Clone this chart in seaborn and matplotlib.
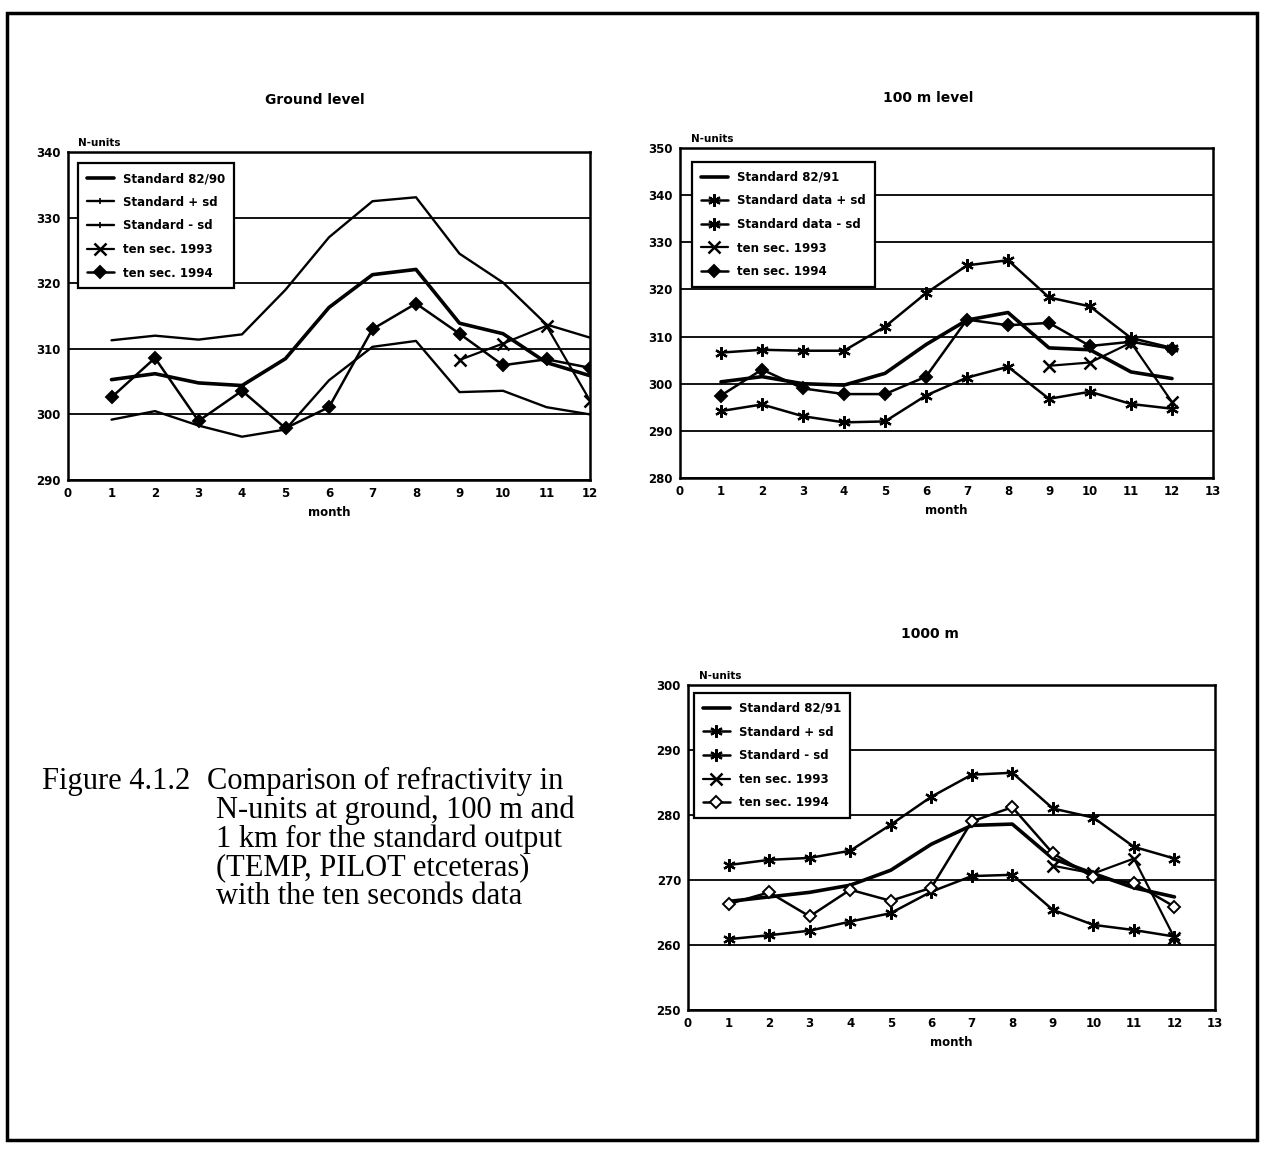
import matplotlib
matplotlib.use("Agg")
import matplotlib.pyplot as plt
from matplotlib.patches import Rectangle
import seaborn as sns

sns.set_theme(style="white")
plt.rcParams['font.family'] = ['DejaVu Sans']
plt.rcParams.update({'text.color': 'black', 'axes.labelcolor': 'black',
                     'xtick.color': 'black', 'ytick.color': 'black'})

months = list(range(1, 13))
months_1993 = [9, 10, 11, 12]

# Ground level (N-units)
ground_std = [305.3, 306.2, 304.8, 304.4, 308.5, 316.3, 321.3, 322.1, 313.9, 312.3, 307.9, 305.9]
ground_plus = [311.3, 312.0, 311.4, 312.2, 319.0, 327.0, 332.5, 333.1, 324.5, 320.1, 313.7, 311.7]
ground_minus = [299.2, 300.5, 298.3, 296.6, 297.7, 305.2, 310.3, 311.2, 303.4, 303.6, 301.1, 300.0]
ground_1993 = [308.3, 310.8, 313.5, 302.1]
ground_1994 = [302.6, 308.6, 299.0, 303.6, 297.9, 301.1, 313.0, 316.9, 312.3, 307.5, 308.4, 307.1]

# 100 m level
m100_std = [300.4, 301.5, 300.0, 299.7, 302.2, 308.3, 313.5, 315.1, 307.6, 307.2, 302.5, 301.1]
m100_plus = [306.6, 307.2, 307.0, 307.0, 312.1, 319.2, 325.1, 326.2, 318.3, 316.4, 309.7, 307.6]
m100_minus = [294.2, 295.6, 293.1, 291.8, 292.0, 297.5, 301.3, 303.6, 296.8, 298.3, 295.7, 294.7]
m100_1993 = [303.8, 304.5, 308.7, 296.1]
m100_1994 = [297.5, 303.0, 299.0, 297.8, 297.8, 301.5, 313.6, 312.4, 312.9, 308.0, 308.9, 307.4]

# 1000 m level
km_std = [266.7, 267.4, 268.1, 269.2, 271.5, 275.5, 278.4, 278.6, 273.3, 271.0, 268.8, 267.4]
km_plus = [272.3, 273.1, 273.4, 274.5, 278.5, 282.8, 286.2, 286.5, 281.0, 279.6, 275.1, 273.3]
km_minus = [260.9, 261.5, 262.2, 263.6, 264.9, 268.2, 270.6, 270.8, 265.4, 263.1, 262.3, 261.3]
km_1993 = [272.2, 271.0, 273.3, 261.1]
km_1994 = [266.3, 268.1, 264.4, 268.5, 266.8, 268.8, 279.0, 281.2, 274.1, 270.4, 269.5, 265.9]

W, H = 1264, 1152
fig = plt.figure(figsize=(W / 100, H / 100), dpi=100)


def px_axes(left, top, right, bottom):
    return fig.add_axes([left / W, 1 - bottom / H, (right - left) / W, (bottom - top) / H])


ASTER = (6, 2, 0)
BOLD = dict(fontweight='bold')


def draw_panel(ax, std, plus, minus, s93, s94, labels, xmax, ylim, sd_marker, open_diamond, leg_anchor):
    k = dict(ax=ax, color='black', legend=False)
    sns.lineplot(x=months, y=std, lw=2.6, label=labels[0], **k)
    if sd_marker:
        sd_style = dict(lw=1.8, marker=ASTER, markersize=9, mew=1.6, mec='black')
    else:
        sd_style = dict(lw=1.7)
    sns.lineplot(x=months, y=plus, label=labels[1], **sd_style, **k)
    sns.lineplot(x=months, y=minus, label=labels[2], **sd_style, **k)
    sns.lineplot(x=months_1993, y=s93, lw=1.6, marker='x', markersize=8, mew=1.8, mec='black', label=labels[3], **k)
    sns.lineplot(x=months, y=s94, lw=1.8, marker='D', markersize=6,
                 mfc='white' if open_diamond else 'black', mew=1.4, mec='black', label=labels[4], **k)

    ax.set_xlim(0, xmax)
    ax.set_ylim(*ylim)
    ax.set_xticks(range(0, xmax + 1))
    ax.set_yticks(range(ylim[0], ylim[1] + 1, 10))
    ax.set_xticklabels([str(i) for i in range(0, xmax + 1)], fontsize=8.5, **BOLD)
    ax.set_yticklabels([str(v) for v in range(ylim[0], ylim[1] + 1, 10)], fontsize=8.5, **BOLD)
    ax.set_xlabel('month', fontsize=8.5, labelpad=4, **BOLD)
    ax.set_ylabel('')
    ax.yaxis.grid(True, color='black', lw=1.3)
    ax.xaxis.grid(False)
    ax.set_axisbelow(True)
    for s in ax.spines.values():
        s.set_color('black')
        s.set_linewidth(1.8)
    ax.tick_params(axis='x', direction='in', length=6, width=1.5, pad=5, colors='black')
    ax.tick_params(axis='y', direction='out', length=3, width=1.2, pad=2, colors='black')
    ax.tick_params(axis='x', which='both', top=False)
    ax.text(0.02, 1.012, 'N-units', transform=ax.transAxes, fontsize=7.5, va='bottom', ha='left', **BOLD)
    leg = ax.legend(loc='upper left', bbox_to_anchor=leg_anchor, borderaxespad=0, frameon=True,
                    fancybox=False, framealpha=1, edgecolor='black', handlelength=2.3,
                    labelspacing=0.9, borderpad=0.75, handletextpad=0.8,
                    prop=dict(size=8.5, weight='bold'))
    leg.get_frame().set_linewidth(1.6)
    if not sd_marker:
        # small tick mark on the +/- sd legend keys
        for h in leg.legend_handles[1:3]:
            h.set_marker('|')
            h.set_markersize(4)
            h.set_markeredgewidth(1.2)
            h.set_markeredgecolor('black')


ax1 = px_axes(68, 152, 590, 480)
draw_panel(ax1, ground_std, ground_plus, ground_minus, ground_1993, ground_1994,
           ['Standard 82/90', 'Standard + sd', 'Standard - sd', 'ten sec. 1993', 'ten sec. 1994'],
           12, (290, 340), False, False, (0.019, 0.966))

ax2 = px_axes(680, 148, 1213, 478)
draw_panel(ax2, m100_std, m100_plus, m100_minus, m100_1993, m100_1994,
           ['Standard 82/91', 'Standard data + sd', 'Standard data - sd', 'ten sec. 1993', 'ten sec. 1994'],
           13, (280, 350), True, False, (0.0225, 0.958))

ax3 = px_axes(688, 685, 1215, 1010)
draw_panel(ax3, km_std, km_plus, km_minus, km_1993, km_1994,
           ['Standard 82/91', 'Standard + sd', 'Standard - sd', 'ten sec. 1993', 'ten sec. 1994'],
           13, (250, 300), True, True, (0.011, 0.975))

# Panel headings
fig.text(315 / W, 1 - 100 / H, 'Ground level', ha='center', va='center', fontsize=10, **BOLD)
fig.text(928 / W, 1 - 98 / H, '100 m level', ha='center', va='center', fontsize=10, **BOLD)
fig.text(930 / W, 1 - 634 / H, '1000 m', ha='center', va='center', fontsize=10, **BOLD)

# Caption
serif = dict(family='Liberation Serif', fontsize=22, va='center', ha='left', color='black')
fig.text(42 / W, 1 - 781 / H, 'Figure 4.1.2', **serif)
fig.text(207 / W, 1 - 781 / H, 'Comparison of refractivity in', **serif)
caption = ['N-units at ground, 100 m and',
           '1 km for the standard output',
           '(TEMP, PILOT etceteras)',
           'with the ten seconds data']
for i, line in enumerate(caption, start=1):
    fig.text(216 / W, 1 - (781 + 29 * i) / H, line, **serif)

# Page frame
fig.add_artist(Rectangle((7 / W, 1 - 1140 / H), (1257 - 7) / W, (1140 - 13) / H,
                         transform=fig.transFigure, fill=False, lw=2.5, ec='black'))

fig.savefig('out.png', dpi=100, facecolor='white')
